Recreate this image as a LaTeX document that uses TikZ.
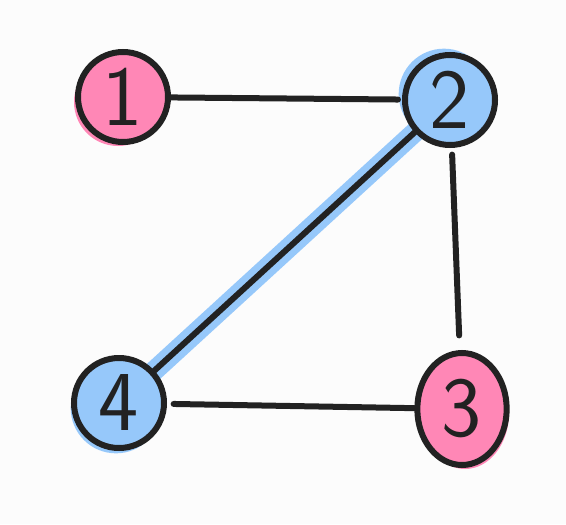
\documentclass[tikz,border=0pt]{standalone}
\usepackage{fontspec}
\usepackage{tikz}
\usetikzlibrary{shapes.geometric,backgrounds}
\definecolor{paperwhite}{RGB}{252,252,252}
\definecolor{markerpink}{RGB}{255,135,182}
\definecolor{markerblue}{RGB}{150,200,250}
\definecolor{inkblack}{RGB}{34,34,34}
\newcommand{\vtxfont}{\fontsize{64pt}{64pt}\sffamily\selectfont}
\tikzset{
  vtx/.style={circle, draw=inkblack, line width=4.5pt, minimum size=67.5pt,
              inner sep=0pt, text=inkblack, font=\vtxfont},
  pinkvtx/.style={vtx, fill=markerpink},
  bluevtx/.style={vtx, fill=markerblue},
  ovalvtx/.style={vtx, ellipse, minimum width=67pt, minimum height=84pt,
                  fill=markerpink},
  edge/.style={draw=inkblack, line width=4.5pt, line cap=round},
  glow/.style={draw=markerblue, line width=15pt, line cap=round},
}
\begin{document}
\begin{tikzpicture}[x=0.75pt,y=-0.75pt]
  \useasboundingbox (0,0) rectangle (566,524);

  % vertices
  \node[pinkvtx] (n1) at (123,97)  {1};
  \node[bluevtx] (n2) at (450,100) {2};
  \node[ovalvtx] (n3) at (462,409) {3};
  \node[bluevtx] (n4) at (119,403) {4};

  % marker fill spilling past the outlines, and the highlighted path 2--4
  \begin{scope}[on background layer]
    \fill[paperwhite] (0,0) rectangle (566,524);
    \fill[markerpink] ([shift={(-5,5)}]n1.center) circle (33pt);
    \fill[markerblue] ([shift={(-6,-6)}]n2.center) circle (34pt);
    \fill[markerblue] ([shift={(-3,5)}]n4.center) circle (34pt);
    \fill[markerpink] ([shift={(3,4)}]n3.center) ellipse (33pt and 42pt);
    \draw[glow, shorten <=-22pt, shorten >=-20pt] (n4) -- (n2);
  \end{scope}

  % edges
  \draw[edge, shorten >=3pt] (n1) -- (n2);
  \draw[edge, shorten <=5pt, shorten >=11pt] (n2) -- (n3);
  \draw[edge, shorten <=5pt] (n4) -- (n3);
  \draw[edge] (n2) -- (n4);
\end{tikzpicture}
\end{document}
